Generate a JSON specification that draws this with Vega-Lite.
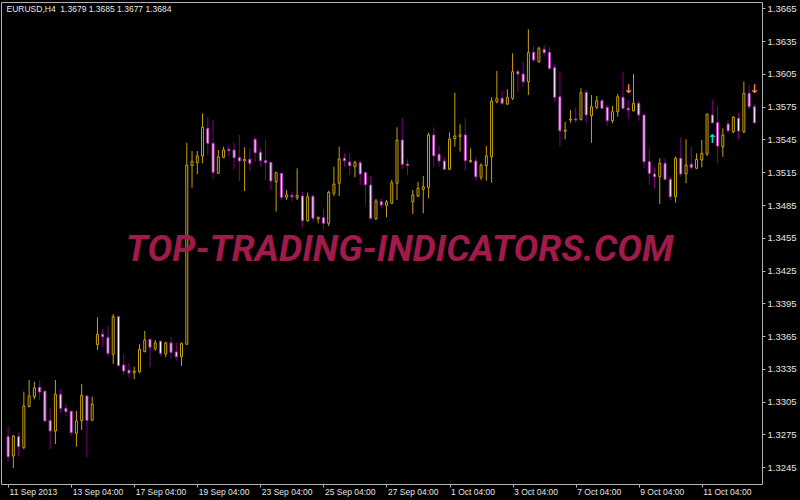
{
  "$schema": "https://vega.github.io/schema/vega-lite/v6.json",
  "width": 761,
  "height": 482,
  "autosize": {"type": "none"},
  "padding": {"left": 1, "top": 2, "right": 38, "bottom": 16},
  "background": "#000000",
  "config": {
    "view": {"stroke": "#b4b4b4", "strokeWidth": 1, "fill": "#000000"},
    "axis": {"grid": false, "domain": false, "labelOverlap": false, "labelBound": false, "labelFlush": false}
  },
  "datasets": {
    "candles": [
      {"i":0,"o":1.32730,"h":1.32822,"l":1.32501,"c":1.32547},
      {"i":1,"o":1.32554,"h":1.32746,"l":1.32444,"c":1.32737},
      {"i":2,"o":1.32730,"h":1.32767,"l":1.32547,"c":1.32639},
      {"i":3,"o":1.32630,"h":1.33142,"l":1.32615,"c":1.33011},
      {"i":4,"o":1.33005,"h":1.33249,"l":1.32999,"c":1.33103},
      {"i":5,"o":1.33096,"h":1.33233,"l":1.33072,"c":1.33176},
      {"i":6,"o":1.33182,"h":1.33249,"l":1.33066,"c":1.33139},
      {"i":7,"o":1.33146,"h":1.33150,"l":1.32870,"c":1.32874},
      {"i":8,"o":1.32877,"h":1.32990,"l":1.32615,"c":1.32782},
      {"i":9,"o":1.32782,"h":1.33249,"l":1.32663,"c":1.33118},
      {"i":10,"o":1.33115,"h":1.33167,"l":1.32944,"c":1.32990},
      {"i":11,"o":1.32990,"h":1.33029,"l":1.32920,"c":1.32959},
      {"i":12,"o":1.32963,"h":1.32963,"l":1.32739,"c":1.32767},
      {"i":13,"o":1.32761,"h":1.32965,"l":1.32639,"c":1.32874},
      {"i":14,"o":1.32877,"h":1.33212,"l":1.32792,"c":1.33109},
      {"i":15,"o":1.33103,"h":1.33103,"l":1.32538,"c":1.32880},
      {"i":16,"o":1.32880,"h":1.33096,"l":1.32877,"c":1.33029},
      {"i":17,"o":1.33572,"h":1.33823,"l":1.33524,"c":1.33667},
      {"i":18,"o":1.33667,"h":1.33713,"l":1.33554,"c":1.33645},
      {"i":19,"o":1.33636,"h":1.33743,"l":1.33462,"c":1.33493},
      {"i":20,"o":1.33484,"h":1.33853,"l":1.33395,"c":1.33828},
      {"i":21,"o":1.33828,"h":1.33830,"l":1.33375,"c":1.33380},
      {"i":22,"o":1.33386,"h":1.33487,"l":1.33295,"c":1.33331},
      {"i":23,"o":1.33338,"h":1.33402,"l":1.33274,"c":1.33313},
      {"i":24,"o":1.33316,"h":1.33371,"l":1.33255,"c":1.33331},
      {"i":25,"o":1.33325,"h":1.33576,"l":1.33310,"c":1.33530},
      {"i":26,"o":1.33508,"h":1.33697,"l":1.33502,"c":1.33615},
      {"i":27,"o":1.33621,"h":1.33621,"l":1.33365,"c":1.33548},
      {"i":28,"o":1.33533,"h":1.33615,"l":1.33517,"c":1.33588},
      {"i":29,"o":1.33603,"h":1.33609,"l":1.33469,"c":1.33493},
      {"i":30,"o":1.33487,"h":1.33599,"l":1.33457,"c":1.33590},
      {"i":31,"o":1.33588,"h":1.33642,"l":1.33438,"c":1.33502},
      {"i":32,"o":1.33505,"h":1.33590,"l":1.33426,"c":1.33462},
      {"i":33,"o":1.33462,"h":1.33594,"l":1.33377,"c":1.33581},
      {"i":34,"o":1.33576,"h":1.35420,"l":1.33570,"c":1.35214},
      {"i":35,"o":1.35210,"h":1.35344,"l":1.35009,"c":1.35250},
      {"i":36,"o":1.35237,"h":1.35344,"l":1.35134,"c":1.35299},
      {"i":37,"o":1.35299,"h":1.35689,"l":1.35232,"c":1.35561},
      {"i":38,"o":1.35552,"h":1.35658,"l":1.35308,"c":1.35415},
      {"i":39,"o":1.35415,"h":1.35628,"l":1.35085,"c":1.35150},
      {"i":40,"o":1.35140,"h":1.35354,"l":1.35134,"c":1.35292},
      {"i":41,"o":1.35287,"h":1.35384,"l":1.35278,"c":1.35354},
      {"i":42,"o":1.35360,"h":1.35393,"l":1.35299,"c":1.35347},
      {"i":43,"o":1.35354,"h":1.35420,"l":1.35180,"c":1.35283},
      {"i":44,"o":1.35283,"h":1.35491,"l":1.35070,"c":1.35253},
      {"i":45,"o":1.35253,"h":1.35378,"l":1.34978,"c":1.35268},
      {"i":46,"o":1.35268,"h":1.35369,"l":1.35161,"c":1.35232},
      {"i":47,"o":1.35451,"h":1.35475,"l":1.35246,"c":1.35329},
      {"i":48,"o":1.35332,"h":1.35369,"l":1.35201,"c":1.35256},
      {"i":49,"o":1.35256,"h":1.35445,"l":1.35079,"c":1.35237},
      {"i":50,"o":1.35241,"h":1.35241,"l":1.34988,"c":1.35070},
      {"i":51,"o":1.35063,"h":1.35155,"l":1.34789,"c":1.35146},
      {"i":52,"o":1.35140,"h":1.35140,"l":1.34896,"c":1.34921},
      {"i":53,"o":1.34921,"h":1.34988,"l":1.34896,"c":1.34942},
      {"i":54,"o":1.34939,"h":1.34972,"l":1.34880,"c":1.34926},
      {"i":55,"o":1.34917,"h":1.35186,"l":1.34896,"c":1.34939},
      {"i":56,"o":1.34933,"h":1.34972,"l":1.34646,"c":1.34707},
      {"i":57,"o":1.34707,"h":1.34963,"l":1.34697,"c":1.34926},
      {"i":58,"o":1.34930,"h":1.34942,"l":1.34697,"c":1.34729},
      {"i":59,"o":1.34722,"h":1.34743,"l":1.34683,"c":1.34738},
      {"i":60,"o":1.34734,"h":1.34811,"l":1.34622,"c":1.34683},
      {"i":61,"o":1.34683,"h":1.34981,"l":1.34658,"c":1.34966},
      {"i":62,"o":1.34957,"h":1.35201,"l":1.34933,"c":1.35042},
      {"i":63,"o":1.35049,"h":1.35384,"l":1.34933,"c":1.35271},
      {"i":64,"o":1.35278,"h":1.35323,"l":1.35201,"c":1.35256},
      {"i":65,"o":1.35244,"h":1.35323,"l":1.35125,"c":1.35210},
      {"i":66,"o":1.35201,"h":1.35256,"l":1.35104,"c":1.35241},
      {"i":67,"o":1.35237,"h":1.35256,"l":1.35033,"c":1.35134},
      {"i":68,"o":1.35146,"h":1.35155,"l":1.34850,"c":1.35036},
      {"i":69,"o":1.35033,"h":1.35116,"l":1.34713,"c":1.34729},
      {"i":70,"o":1.34725,"h":1.34905,"l":1.34713,"c":1.34887},
      {"i":71,"o":1.34880,"h":1.34912,"l":1.34820,"c":1.34850},
      {"i":72,"o":1.34847,"h":1.34896,"l":1.34738,"c":1.34878},
      {"i":73,"o":1.34866,"h":1.35079,"l":1.34859,"c":1.35054},
      {"i":74,"o":1.35049,"h":1.35561,"l":1.34896,"c":1.35445},
      {"i":75,"o":1.35445,"h":1.35649,"l":1.35177,"c":1.35223},
      {"i":76,"o":1.35225,"h":1.35268,"l":1.35125,"c":1.35213},
      {"i":77,"o":1.34880,"h":1.34988,"l":1.34768,"c":1.34942},
      {"i":78,"o":1.34933,"h":1.35063,"l":1.34921,"c":1.35003},
      {"i":79,"o":1.34994,"h":1.35116,"l":1.34774,"c":1.35018},
      {"i":80,"o":1.35012,"h":1.35512,"l":1.34912,"c":1.35491},
      {"i":81,"o":1.35491,"h":1.35561,"l":1.35195,"c":1.35301},
      {"i":82,"o":1.35314,"h":1.35390,"l":1.35201,"c":1.35253},
      {"i":83,"o":1.35253,"h":1.35292,"l":1.35171,"c":1.35177},
      {"i":84,"o":1.35177,"h":1.35515,"l":1.35171,"c":1.35454},
      {"i":85,"o":1.35457,"h":1.35878,"l":1.35384,"c":1.35482},
      {"i":86,"o":1.35475,"h":1.35589,"l":1.35338,"c":1.35493},
      {"i":87,"o":1.35491,"h":1.35644,"l":1.35164,"c":1.35256},
      {"i":88,"o":1.35246,"h":1.35369,"l":1.35237,"c":1.35259},
      {"i":89,"o":1.35253,"h":1.35292,"l":1.35073,"c":1.35109},
      {"i":90,"o":1.35104,"h":1.35232,"l":1.35079,"c":1.35216},
      {"i":91,"o":1.35210,"h":1.35390,"l":1.35073,"c":1.35299},
      {"i":92,"o":1.35292,"h":1.35836,"l":1.35054,"c":1.35802},
      {"i":93,"o":1.35795,"h":1.36076,"l":1.35781,"c":1.35827},
      {"i":94,"o":1.35827,"h":1.35896,"l":1.35765,"c":1.35781},
      {"i":95,"o":1.35774,"h":1.35909,"l":1.35765,"c":1.35836},
      {"i":96,"o":1.35827,"h":1.36238,"l":1.35811,"c":1.36070},
      {"i":97,"o":1.36070,"h":1.36092,"l":1.35887,"c":1.36049},
      {"i":98,"o":1.36049,"h":1.36161,"l":1.35933,"c":1.35978},
      {"i":99,"o":1.35978,"h":1.36458,"l":1.35857,"c":1.36244},
      {"i":100,"o":1.36247,"h":1.36308,"l":1.36161,"c":1.36177},
      {"i":101,"o":1.36161,"h":1.36299,"l":1.36152,"c":1.36284},
      {"i":102,"o":1.36275,"h":1.36314,"l":1.36207,"c":1.36244},
      {"i":103,"o":1.36247,"h":1.36299,"l":1.36086,"c":1.36101},
      {"i":104,"o":1.36107,"h":1.36147,"l":1.35795,"c":1.35836},
      {"i":105,"o":1.35841,"h":1.36070,"l":1.35384,"c":1.35530},
      {"i":106,"o":1.35525,"h":1.35612,"l":1.35451,"c":1.35537},
      {"i":107,"o":1.35628,"h":1.35720,"l":1.35603,"c":1.35637},
      {"i":108,"o":1.35637,"h":1.35744,"l":1.35603,"c":1.35628},
      {"i":109,"o":1.35634,"h":1.35918,"l":1.35622,"c":1.35878},
      {"i":110,"o":1.35881,"h":1.35903,"l":1.35598,"c":1.35674},
      {"i":111,"o":1.35667,"h":1.35857,"l":1.35420,"c":1.35750},
      {"i":112,"o":1.35744,"h":1.35848,"l":1.35726,"c":1.35805},
      {"i":113,"o":1.35805,"h":1.35817,"l":1.35726,"c":1.35735},
      {"i":114,"o":1.35744,"h":1.35765,"l":1.35573,"c":1.35622},
      {"i":115,"o":1.35622,"h":1.35756,"l":1.35598,"c":1.35704},
      {"i":116,"o":1.35704,"h":1.35866,"l":1.35658,"c":1.35841},
      {"i":117,"o":1.35836,"h":1.36070,"l":1.35720,"c":1.35735},
      {"i":118,"o":1.35735,"h":1.35811,"l":1.35634,"c":1.35720},
      {"i":119,"o":1.35713,"h":1.36049,"l":1.35704,"c":1.35781},
      {"i":120,"o":1.35781,"h":1.35805,"l":1.35622,"c":1.35674},
      {"i":121,"o":1.35674,"h":1.35674,"l":1.35186,"c":1.35246},
      {"i":122,"o":1.35246,"h":1.35369,"l":1.35033,"c":1.35140},
      {"i":123,"o":1.35134,"h":1.35195,"l":1.35003,"c":1.35109},
      {"i":124,"o":1.35109,"h":1.35278,"l":1.34859,"c":1.35232},
      {"i":125,"o":1.35232,"h":1.35278,"l":1.35073,"c":1.35085},
      {"i":126,"o":1.35085,"h":1.35109,"l":1.34896,"c":1.34926},
      {"i":127,"o":1.34926,"h":1.35292,"l":1.34871,"c":1.35278},
      {"i":128,"o":1.35278,"h":1.35470,"l":1.35109,"c":1.35134},
      {"i":129,"o":1.35134,"h":1.35451,"l":1.35049,"c":1.35216},
      {"i":130,"o":1.35223,"h":1.35384,"l":1.35171,"c":1.35195},
      {"i":131,"o":1.35186,"h":1.35323,"l":1.35177,"c":1.35268},
      {"i":132,"o":1.35262,"h":1.35445,"l":1.35195,"c":1.35323},
      {"i":133,"o":1.35317,"h":1.35689,"l":1.35299,"c":1.35680},
      {"i":134,"o":1.35674,"h":1.35817,"l":1.35591,"c":1.35603},
      {"i":135,"o":1.35603,"h":1.35750,"l":1.35232,"c":1.35390},
      {"i":136,"o":1.35384,"h":1.35552,"l":1.35292,"c":1.35491},
      {"i":137,"o":1.35591,"h":1.35622,"l":1.35512,"c":1.35530},
      {"i":138,"o":1.35521,"h":1.35665,"l":1.35506,"c":1.35653},
      {"i":139,"o":1.35644,"h":1.35695,"l":1.35451,"c":1.35527},
      {"i":140,"o":1.35521,"h":1.35978,"l":1.35506,"c":1.35872},
      {"i":141,"o":1.35872,"h":1.35948,"l":1.35726,"c":1.35750},
      {"i":142,"o":1.35750,"h":1.35774,"l":1.35591,"c":1.35603}
    ],
    "signals": [
      {"i":118,"p":1.35914,"s":"down"},
      {"i":134,"p":1.35454,"s":"up"},
      {"i":142,"p":1.35914,"s":"down"}
    ]
  },
  "layer": [
    {
      "data": {"name": "candles"},
      "mark": {"type": "rule", "strokeWidth": 1},
      "encoding": {
        "x": {
          "field": "i",
          "type": "quantitative",
          "title": null,
          "scale": {"domain": [-0.4, 142.5], "nice": false, "zero": false},
          "axis": {
            "title": null,
            "values": [0, 12, 24, 36, 48, 60, 72, 84, 96, 108, 120, 132],
            "tickCount": 40,
            "labelExpr": "['11 Sep 2013','13 Sep 04:00','17 Sep 04:00','19 Sep 04:00','23 Sep 04:00','25 Sep 04:00','27 Sep 04:00','1 Oct 04:00','3 Oct 04:00','7 Oct 04:00','9 Oct 04:00','11 Oct 04:00'][round(datum.value/12)]",
            "labelAlign": "left",
            "labelBaseline": "top",
            "labelOffset": 1,
            "labelPadding": 0,
            "labelColor": "#e4e4e4",
            "labelFont": "Liberation Sans",
            "labelFontSize": 8.5,
            "tickColor": "#b4b4b4",
            "tickSize": 3,
            "labelOverlap": false,
            "labelFlush": false,
            "labelBound": false,
            "domain": false,
            "grid": false
          }
        },
        "y": {
          "field": "l",
          "type": "quantitative",
          "title": null,
          "scale": {"domain": [1.32297, 1.36708], "nice": false, "zero": false},
          "axis": {
            "orient": "right",
            "title": null,
            "values": [1.3245, 1.3275, 1.3305, 1.3335, 1.3365, 1.3395, 1.3425, 1.3455, 1.3485, 1.3515, 1.3545, 1.3575, 1.3605, 1.3635, 1.3665],
            "tickCount": 40,
            "format": ".4f",
            "labelColor": "#e4e4e4",
            "labelFont": "Liberation Sans",
            "labelFontSize": 9.5,
            "labelPadding": 2,
            "tickSize": 3,
            "tickColor": "#b4b4b4",
            "labelOverlap": false,
            "labelFlush": false,
            "labelBound": false,
            "domain": false,
            "grid": false
          }
        },
        "y2": {"field": "h"},
        "color": {"condition": {"test": "datum.c >= datum.o", "value": "#c9a20a"}, "value": "#800080"}
      }
    },
    {
      "data": {"name": "candles"},
      "mark": {"type": "bar", "width": 2, "strokeWidth": 1},
      "encoding": {
        "x": {"field": "i", "type": "quantitative", "title": null},
        "y": {"field": "o", "type": "quantitative", "title": null},
        "y2": {"field": "c"},
        "fill": {"condition": {"test": "datum.c >= datum.o", "value": "#000000"}, "value": "#ffffff"},
        "stroke": {"condition": {"test": "datum.c >= datum.o", "value": "#c9a20a"}, "value": "#b030b0"}
      }
    },
    {
      "data": {"name": "signals"},
      "mark": {"type": "text", "font": "DejaVu Sans", "fontWeight": "bold", "fontSize": 12, "align": "center", "baseline": "middle"},
      "encoding": {
        "x": {"field": "i", "type": "quantitative", "title": null},
        "y": {"field": "p", "type": "quantitative", "title": null},
        "text": {"condition": {"test": "datum.s == 'up'", "value": "↑"}, "value": "↓"},
        "color": {"condition": {"test": "datum.s == 'up'", "value": "#00e0e0"}, "value": "#ff7f50"}
      }
    },
    {
      "data": {"values": [{"label": "TOP-TRADING-INDICATORS.COM"}]},
      "mark": {"type": "text", "font": "Roboto", "fontWeight": "bold", "fontStyle": "italic", "fontSize": 37, "color": "#a01a4a", "align": "center", "baseline": "middle"},
      "encoding": {
        "x": {"datum": 74.5, "type": "quantitative", "title": null},
        "y": {"datum": 1.34435, "type": "quantitative", "title": null},
        "text": {"field": "label"}
      }
    },
    {
      "data": {"values": [{"label": "EURUSD,H4\u00a0 1.3679 1.3685 1.3677 1.3684"}]},
      "mark": {"type": "text", "font": "Liberation Sans", "fontSize": 8.5, "color": "#e8e8e8", "align": "left", "baseline": "middle"},
      "encoding": {
        "x": {"datum": -0.3, "type": "quantitative", "title": null},
        "y": {"datum": 1.36645, "type": "quantitative", "title": null},
        "text": {"field": "label"}
      }
    }
  ]
}
